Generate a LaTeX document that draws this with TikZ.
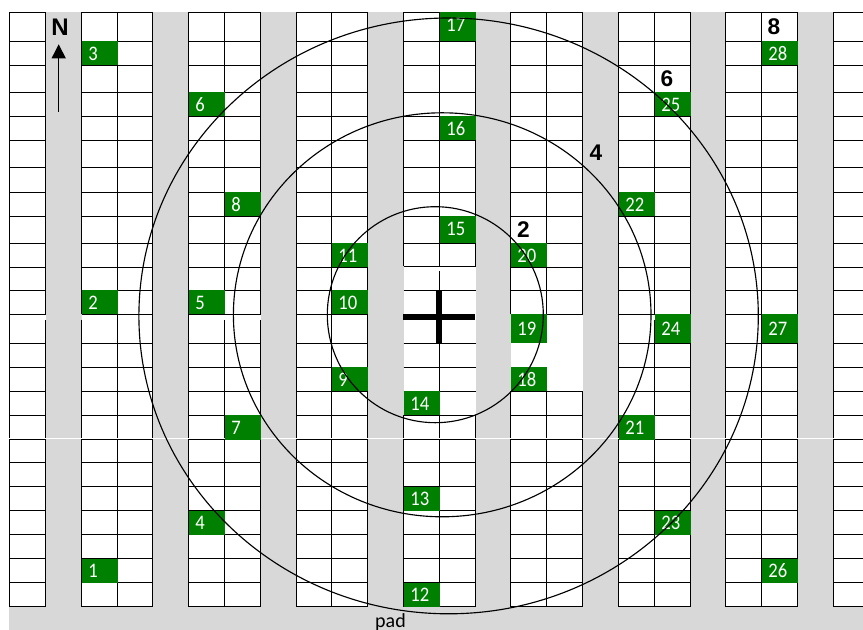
\documentclass[tikz,border=0pt]{standalone}
\usepackage{fontspec}
\setmainfont{Liberation Sans}
\newfontfamily\cellfont[FakeStretch=0.9]{Carlito}
\newfontfamily\padfont{Carlito}
\usetikzlibrary{arrows.meta}
\definecolor{padgrey}{HTML}{D8D8D8}
\definecolor{cellgreen}{HTML}{008000}
\newcommand{\gcell}[5][0pt]{%
  \node[greencell,minimum height=#4*0.75pt-#3*0.75pt] (c#5) at (#2,{(#3+#4)/2}) {\raisebox{#1}{#5}};}
\tikzset{
  x=0.75pt,y=-0.75pt,
  gridline/.style={draw=black,line width=0.75pt},
  greencell/.style={anchor=west,fill=cellgreen,text=white,font=\cellfont\fontsize{15.5pt}{17pt}\selectfont,
    inner xsep=5pt,inner ysep=0pt,text width=17pt,align=left},
  ringline/.style={draw=black,line width=0.85pt},
  dist/.style={font=\bfseries\fontsize{17pt}{19pt}\selectfont,text=black,inner sep=0pt},
}
\begin{document}
\begin{tikzpicture}
\useasboundingbox (0,0) rectangle (863,630);
\clip (0,0) rectangle (863,630);
\fill[padgrey] (9,12.5) rectangle (863,630);
% white strips
\foreach \a/\b in {9.5/45.5,81.5/152.5,188.5/260.5,296.5/367.5,403.5/475.5,510.5/582.5,618.5/690.5,725.5/797.5,833.5/905}{
  \fill[white] (\a,12.5) rectangle (\b,606.5);
}
% horizontal lines, ordinary strips
\foreach \a/\b in {9.5/45.5,81.5/152.5,188.5/260.5,296.5/367.5,618.5/690.5,725.5/797.5,833.5/905}{
  \foreach \y in {12.5,41.5,65.5,92.5,116.5,140.5,167.5,192.5,216.5,243.5,267.5,290.5,314.5,343.5,367.5,391.5,415.5,439.5,462.5,486.5,510.5,534.5,558.5,582.5,606.5}{
    \draw[gridline] (\a,\y) -- (\b,\y);
  }
}
% horizontal lines, centre strip
\foreach \y in {12.5,41.5,65.5,92.5,116.5,140.5,167.5,192.5,216.5,243.5,266.5,290.5,343.5,367.5,391.5,415.5,439.5,462.5,486.5,510.5,534.5,558.5,582.5,606.5}{
  \draw[gridline] (403.5,\y) -- (475.5,\y);
}
% horizontal lines, strip with the open block
\foreach \y in {12.5,41.5,65.5,92.5,116.5,140.5,167.5,192.5,216.5,243.5,267.5,290.5,314.5,391.5,415.5,439.5,462.5,486.5,510.5,534.5,558.5,582.5,606.5}{
  \draw[gridline] (510.5,\y) -- (582.5,\y);
}
% whole vertical lines
\foreach \x in {9.5,117.5,152.5,188.5,296.5,331.5,367.5,618.5,725.5,761.5,797.5,833.5}{
  \draw[gridline] (\x,12.5) -- (\x,606.5);
}
% vertical lines with a gap: x / end of upper part / start of lower part
\foreach \x/\p/\q in {45.5/314.5/320,81.5/314.5/320,224.5/314.5/320,260.5/314.5/320,654.5/314.5/320,690.5/314.5/320,
    403.5/266.5/415.5,475.5/266.5/415.5,439.5/266.5/271,510.5/314.5/391.5,546.5/314.5/391.5,582.5/314.5/391.5}{
  \draw[gridline] (\x,12.5) -- (\x,\p);
  \draw[gridline] (\x,\q) -- (\x,606.5);
}
% white seam
\draw[white,line width=0.75pt] (9,438.5) -- (863,438.5);
\gcell{81.5}{558.5}{582.5}{1}
\gcell{81.5}{290.5}{314.5}{2}
\gcell{81.5}{41.5}{65.5}{3}
\gcell{188.5}{510.5}{534.5}{4}
\gcell{188.5}{290.5}{314.5}{5}
\gcell{188.5}{92.5}{116.5}{6}
\gcell{224.5}{415.5}{439.5}{7}
\gcell{224.5}{192.5}{216.5}{8}
\gcell{331.5}{367.5}{391.5}{9}
\gcell{331.5}{290.5}{314.5}{10}
\gcell{331.5}{243.5}{267.5}{11}
\gcell{403.5}{582.5}{606.5}{12}
\gcell{403.5}{486.5}{510.5}{13}
\gcell{403.5}{391.5}{415.5}{14}
\gcell[1.5pt]{439.5}{216.5}{243.5}{15}
\gcell{439.5}{116.5}{140.5}{16}
\gcell[2.5pt]{439.5}{12.5}{41.5}{17}
\gcell{510.5}{367.5}{391.5}{18}
\gcell{510.5}{314.5}{343.5}{19}
\gcell{510.5}{243.5}{267.5}{20}
\gcell{618.5}{415.5}{439.5}{21}
\gcell{618.5}{192.5}{216.5}{22}
\gcell{654.5}{510.5}{534.5}{23}
\gcell{654.5}{314.5}{343.5}{24}
\gcell{654.5}{92.5}{116.5}{25}
\gcell{761.5}{558.5}{582.5}{26}
\gcell{761.5}{314.5}{343.5}{27}
\gcell{761.5}{41.5}{65.5}{28}
% centre cross
\draw[black,line width=4.5pt] (403.3,317) -- (475.3,317);
\draw[black,line width=4.5pt] (439,290.3) -- (439,343.7);
% range rings
\draw[ringline] (435.3,314.7) ellipse[x radius=108,y radius=108];
\draw[ringline] (442.2,314.8) ellipse[x radius=208.8,y radius=202];
\draw[ringline] (448.6,315.9) ellipse[x radius=309.7,y radius=297.9];
% labels
\node[dist] (d2) at (523.5,230) {2};
\node[dist] (d4) at (596,153) {4};
\node[dist] (d6) at (667,79) {6};
\node[dist] (d8) at (774,27) {8};
\node[dist,font=\bfseries\fontsize{18pt}{20pt}\selectfont] (north) at (60,27) {N};
\coordinate (ntail) at (58.7,111.7);
\coordinate (ntip) at (58.7,44.3);
\draw[black,line width=0.8pt,-{Triangle[length=10.5pt,width=10.5pt]}] (ntail) -- (ntip);
\node[font=\padfont\fontsize{15pt}{17pt}\selectfont,inner sep=0pt,anchor=base] (pad) at (390.5,627) {pad};
\end{tikzpicture}
\end{document}
